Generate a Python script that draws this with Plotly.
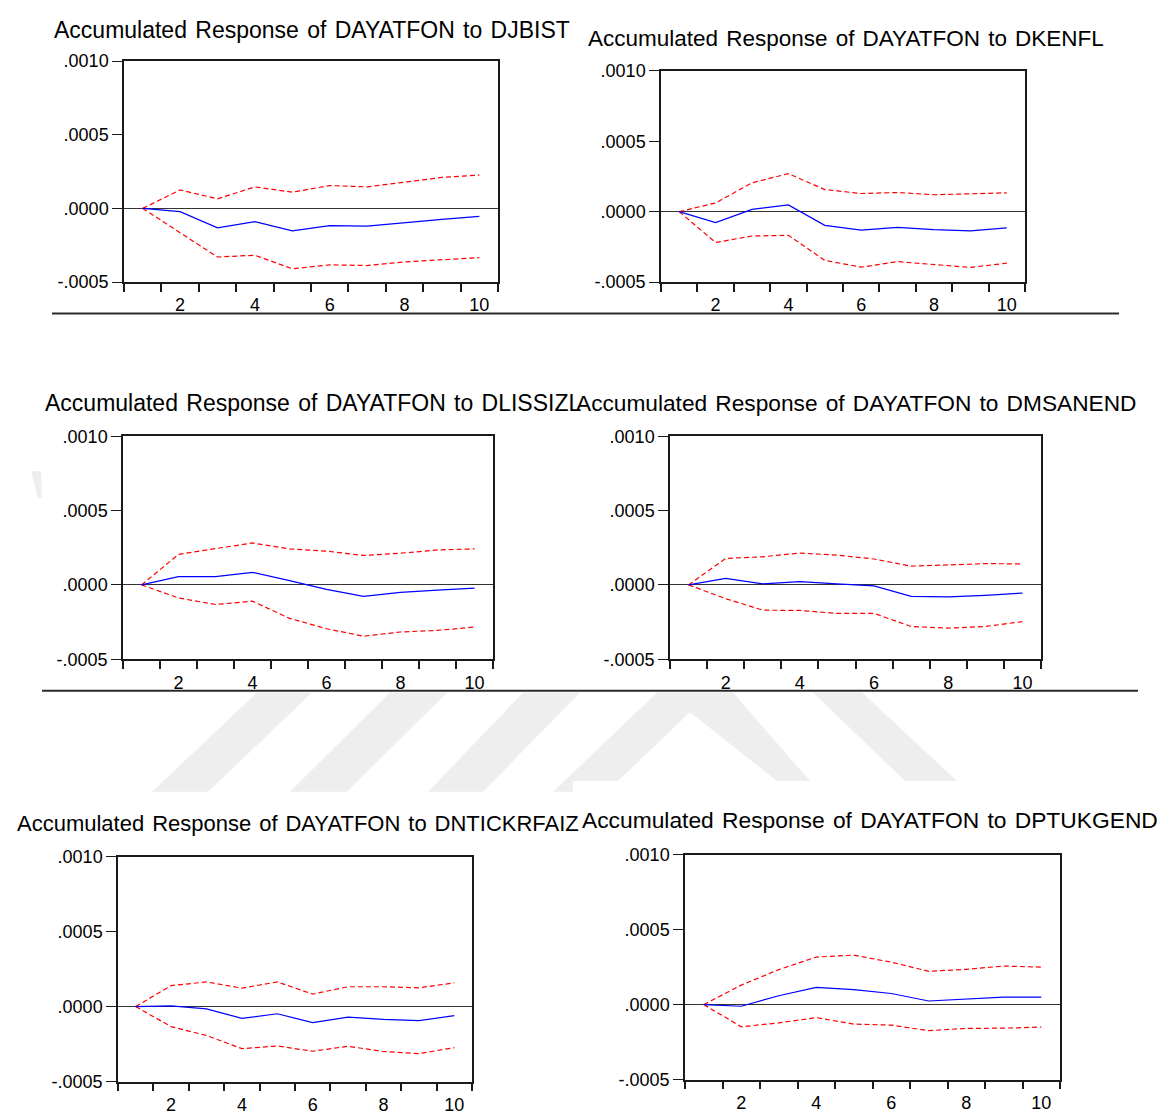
import plotly.graph_objects as go

W, H = 1167, 1120

# Horizon (periods) and tick labels
periods = [1, 2, 3, 4, 5, 6, 7, 8, 9, 10]
x_tick_vals = [2, 4, 6, 8, 10]
x_tick_text = ["2", "4", "6", "8", "10"]
y_tick_vals = [-0.0005, 0.0, 0.0005, 0.0010]
y_tick_text = ["-.0005", ".0000", ".0005", ".0010"]

# Accumulated responses of DAYATFON (blue) with +/- 2 S.E. bands (red)
resp_djbist = [0.0, -0.000022, -0.000132, -0.000090, -0.000152, -0.000117, -0.000121, -0.000096, -0.000074, -0.000054]
upper_djbist = [0.0, 0.000125, 0.000065, 0.000146, 0.000110, 0.000155, 0.000146, 0.000180, 0.000210, 0.000226]
lower_djbist = [0.0, -0.000168, -0.000330, -0.000318, -0.000410, -0.000383, -0.000388, -0.000363, -0.000350, -0.000334]

resp_dkenfl = [0.0, -0.000078, 0.000016, 0.000048, -0.000097, -0.000131, -0.000111, -0.000127, -0.000136, -0.000115]
upper_dkenfl = [0.0, 0.000062, 0.000205, 0.000270, 0.000157, 0.000129, 0.000136, 0.000120, 0.000127, 0.000134]
lower_dkenfl = [0.0, -0.000219, -0.000173, -0.000168, -0.000346, -0.000394, -0.000355, -0.000373, -0.000396, -0.000366]

resp_dlissizl = [0.0, 0.000055, 0.000055, 0.000084, 0.000029, -0.000030, -0.000077, -0.000050, -0.000035, -0.000022]
upper_dlissizl = [0.0, 0.000205, 0.000244, 0.000282, 0.000242, 0.000227, 0.000198, 0.000213, 0.000235, 0.000242]
lower_dlissizl = [0.0, -0.000088, -0.000132, -0.000110, -0.000225, -0.000295, -0.000345, -0.000317, -0.000306, -0.000284]

resp_dmsanend = [0.0, 0.000044, 0.000007, 0.000022, 0.000007, -0.000007, -0.000077, -0.000081, -0.000070, -0.000055]
upper_dmsanend = [0.0, 0.000178, 0.000189, 0.000214, 0.000200, 0.000174, 0.000126, 0.000132, 0.000143, 0.000141]
lower_dmsanend = [0.0, -0.000093, -0.000170, -0.000172, -0.000192, -0.000192, -0.000280, -0.000291, -0.000280, -0.000247]

resp_dntickrfaiz = [0.0, 0.000004, -0.000015, -0.000079, -0.000048, -0.000107, -0.000070, -0.000086, -0.000094, -0.000061]
upper_dntickrfaiz = [0.0, 0.000140, 0.000164, 0.000123, 0.000164, 0.000083, 0.000132, 0.000132, 0.000125, 0.000158]
lower_dntickrfaiz = [0.0, -0.000134, -0.000193, -0.000281, -0.000263, -0.000298, -0.000265, -0.000300, -0.000314, -0.000274]

resp_dptukgend = [0.0, -0.000011, 0.000059, 0.000115, 0.000100, 0.000074, 0.000024, 0.000037, 0.000050, 0.000050]
upper_dptukgend = [0.0, 0.000130, 0.000233, 0.000317, 0.000330, 0.000283, 0.000222, 0.000235, 0.000257, 0.000250]
lower_dptukgend = [0.0, -0.000148, -0.000122, -0.000087, -0.000130, -0.000137, -0.000174, -0.000159, -0.000157, -0.000150]

titles = [
    "Accumulated Response of DAYATFON to DJBIST",
    "Accumulated Response of DAYATFON to DKENFL",
    "Accumulated Response of DAYATFON to DLISSIZL",
    "Accumulated Response of DAYATFON to DMSANEND",
    "Accumulated Response of DAYATFON to DNTICKRFAIZ",
    "Accumulated Response of DAYATFON to DPTUKGEND",
]
series = [
    (resp_djbist, upper_djbist, lower_djbist),
    (resp_dkenfl, upper_dkenfl, lower_dkenfl),
    (resp_dlissizl, upper_dlissizl, lower_dlissizl),
    (resp_dmsanend, upper_dmsanend, lower_dmsanend),
    (resp_dntickrfaiz, upper_dntickrfaiz, lower_dntickrfaiz),
    (resp_dptukgend, upper_dptukgend, lower_dptukgend),
]

# Plot boxes in pixels: left, right, top, bottom
boxes = [
    (124, 498, 52, 277),
    (661, 1025, 62, 277),
    (123, 493, 434, 661),
    (670, 1041, 434, 661),
    (118, 472, 862, 1091),
    (685, 1060, 860, 1089),
]
# Title placement in pixels: x, y, anchor, font size
title_pos = [
    (52, 20, "left", 23),
    (586, 29, "left", 22.5),
    (43, 400, "left", 23),
    (1138, 400, "right", 22.7),
    (15, 828, "left", 22),
    (580, 825, "left", 22.8),
]

FONT = "Liberation Sans, Arial, sans-serif"


def px(x):
    return x / W


def py(y):
    return 1 - y / H


def spaced(text):
    # slightly wider word gaps, as in the EViews graph titles
    return text.replace(" ", " \u200a")


fig = go.Figure()
layout = dict(
    width=W, height=H,
    margin=dict(l=0, r=0, t=0, b=0),
    paper_bgcolor="white", plot_bgcolor="white",
    showlegend=False,
    font=dict(family=FONT, color="black"),
    annotations=[], shapes=[],
)

for i, ((resp, up, lo), (l, r, t, b)) in enumerate(zip(series, boxes)):
    n = i + 1
    xa = "x" if n == 1 else f"x{n}"
    ya = "y" if n == 1 else f"y{n}"
    for vals, color, dash in ((up, "#ff0000", "5px,3px"), (lo, "#ff0000", "5px,3px"), (resp, "#0000ff", "solid")):
        fig.add_trace(go.Scatter(
            x=periods, y=vals, mode="lines", xaxis=xa, yaxis=ya,
            line=dict(color=color, width=1.2, dash=dash), hoverinfo="skip",
        ))
    layout["xaxis" if n == 1 else f"xaxis{n}"] = dict(
        domain=[px(l), px(r)], anchor=ya, range=[0.5, 10.5],
        showline=True, linecolor="#1a1a1a", linewidth=1.5, mirror=True,
        showgrid=False, zeroline=False,
        tickmode="array", tickvals=x_tick_vals, ticktext=x_tick_text,
        ticks="outside", ticklen=6, tickcolor="rgba(0,0,0,0)",
        tickfont=dict(family=FONT, size=18, color="black"),
        minor=dict(tickmode="array", tickvals=[k + 0.5 for k in range(11)],
                   ticks="outside", ticklen=8, tickwidth=1.5, tickcolor="#1a1a1a",
                   showgrid=False),
        fixedrange=True,
    )
    layout["yaxis" if n == 1 else f"yaxis{n}"] = dict(
        domain=[py(b), py(t)], anchor=xa, range=[-0.0005, 0.0010],
        showline=True, linecolor="#1a1a1a", linewidth=1.5, mirror=True,
        showgrid=False, zeroline=True, zerolinecolor="#333333", zerolinewidth=1,
        tickmode="array", tickvals=y_tick_vals, ticktext=y_tick_text,
        ticks="outside", ticklen=10, tickwidth=1, tickcolor="#1a1a1a",
        tickfont=dict(family=FONT, size=18, color="black"),
        fixedrange=True,
    )
    tx, ty, anc, fs = title_pos[i]
    layout["annotations"].append(dict(
        text=spaced(titles[i]), xref="paper", yref="paper", x=px(tx), y=py(ty),
        xanchor=anc, yanchor="middle", showarrow=False,
        font=dict(family=FONT, size=fs, color="black"),
    ))

# Row separators
for y, x0, x1 in ((309, 52, 1119), (693, 42, 1138)):
    layout["shapes"].append(dict(
        type="line", xref="paper", yref="paper",
        x0=px(x0), x1=px(x1), y0=py(y), y1=py(y),
        line=dict(color="#2a2a2a", width=2),
    ))

# Faint background watermark between the rows
wm_polys = [
    [(152, 796), (208, 796), (312, 695), (257, 695)],
    [(290, 796), (347, 796), (447, 695), (390, 695)],
    [(428, 796), (483, 796), (580, 695), (523, 695)],
    [(553, 796), (573, 796), (573, 785), (618, 785), (690, 715), (777, 785),
     (810, 785), (733, 695), (657, 695)],
    [(905, 785), (957, 785), (862, 695), (813, 695)],
    [(31, 469), (41, 470), (42, 497), (38, 497)],
]
for poly in wm_polys:
    path = "M " + " L ".join(f"{px(x):.5f},{py(y):.5f}" for x, y in poly) + " Z"
    layout["shapes"].append(dict(
        type="path", xref="paper", yref="paper", path=path,
        fillcolor="#eeeeee", line=dict(width=0), layer="below",
    ))

fig.update_layout(**layout)
fig.write_html("out.html")
